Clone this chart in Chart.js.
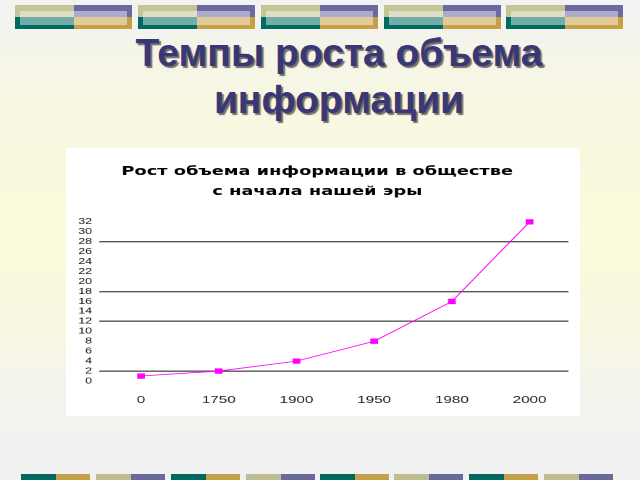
<!DOCTYPE html>
<html>
<head>
<meta charset="utf-8">
<script src="https://cdn.jsdelivr.net/npm/chart.js@4/dist/chart.umd.min.js"></script>
<style>
html,body{margin:0;padding:0;}
body{width:640px;height:480px;overflow:hidden;position:relative;
 background:linear-gradient(to bottom,#F2F2F2 0%,#F4F4EC 8%,#F8F7E2 22%,#FBFADA 50%,#F8F7E2 68%,#F3F3EE 84%,#F1F1F1 92%,#F1F1F1 100%);}
.blk{position:absolute;top:5px;width:117px;height:24px;}
.blk .q{position:absolute;width:50%;height:50%;}
.blk .in{position:absolute;left:5px;top:6px;width:107px;height:14px;background:rgba(255,255,255,0.45);}
.bot{position:absolute;top:474px;width:69px;height:6px;}
.bot div{position:absolute;top:0;width:50%;height:100%;}
#title{position:absolute;left:39px;top:29px;width:600px;text-align:center;
 font-family:"Liberation Sans",Arial,sans-serif;font-weight:bold;font-size:39px;line-height:47px;
 color:#383876;text-shadow:2px 2px 1px rgba(0,0,0,0.55);}
#box{position:absolute;left:66px;top:148px;width:514px;height:268px;background:#fff;overflow:hidden;}
#wrap{position:absolute;left:0;top:0;width:355px;height:268px;transform-origin:0 0;transform:scaleX(1.4479);}
</style>
</head>
<body>
<div id="deco"></div>
<div id="title">Темпы роста объема<br>информации</div>
<div id="box"><div id="wrap"><canvas id="c" width="355" height="268"></canvas></div></div>
<script>
const chartTitle = ["Рост объема информации в обществе", "с начала нашей эры"];
const years = ["0", "1750", "1900", "1950", "1980", "2000"];
const volume = [1, 2, 4, 8, 16, 32];
const gridValues = [2, 12, 18, 28];
const yMin = 0, yMax = 32, yStep = 2;

// decorative blocks
const deco = document.getElementById('deco');
const topX = [15, 138, 261, 384, 506];
topX.forEach(x => {
  const b = document.createElement('div'); b.className = 'blk'; b.style.left = x + 'px';
  b.innerHTML = '<div class="q" style="left:0;top:0;background:#C4C495"></div>' +
    '<div class="q" style="left:50%;top:0;background:#6A6AA0"></div>' +
    '<div class="q" style="left:0;top:50%;background:#006B62"></div>' +
    '<div class="q" style="left:50%;top:50%;background:#C6A046"></div>' +
    '<div class="in"></div>';
  deco.appendChild(b);
});
const botX = [21, 96, 171, 246, 320, 394, 469, 544];
botX.forEach((x, i) => {
  const b = document.createElement('div'); b.className = 'bot'; b.style.left = x + 'px';
  const c = i % 2 === 0 ? ['#00685F', '#C4A24A'] : ['#BCBE92', '#6A6A9A'];
  b.innerHTML = '<div style="left:0;background:' + c[0] + '"></div><div style="left:50%;background:' + c[1] + '"></div>';
  deco.appendChild(b);
});

new Chart(document.getElementById('c'), {
  type: 'line',
  data: {
    labels: years,
    datasets: [{
      data: volume,
      borderColor: '#FF00FF',
      backgroundColor: '#FF00FF',
      borderWidth: 0.8,
      pointStyle: 'rect',
      pointRadius: 3.2,
      pointHoverRadius: 3.2,
      tension: 0,
      fill: false,
      clip: false
    }]
  },
  options: {
    responsive: false,
    maintainAspectRatio: false,
    animation: false,
    devicePixelRatio: 2,
    layout: { padding: { left: 0, right: 8, top: 14, bottom: 0 } },
    plugins: {
      legend: { display: false },
      tooltip: { enabled: false },
      title: {
        display: true,
        text: chartTitle,
        color: '#000',
        font: { family: 'DejaVu Sans', weight: 'bold', size: 12.3, lineHeight: 1.62 },
        padding: { top: 0, bottom: 20 }
      }
    },
    scales: {
      x: {
        offset: true,
        grid: { display: false, drawTicks: false },
        border: { display: false },
        ticks: { color: '#222', font: { family: 'Liberation Sans', size: 10.5 }, padding: 13, maxRotation: 0 },
        afterFit: s => { s.height = 35; }
      },
      y: {
        min: yMin, max: yMax,
        border: { display: false },
        grid: {
          color: ctx => gridValues.includes(ctx.tick && ctx.tick.value) ? '#555' : 'rgba(0,0,0,0)',
          lineWidth: 1.4,
          tickLength: 2,
          drawTicks: true
        },
        ticks: {
          stepSize: yStep, autoSkip: false, color: '#111', padding: 5,
          font: { family: 'Liberation Sans', size: 8.5 }
        },
        afterFit: s => { s.width = 25; }
      }
    }
  }
});
</script>
</body>
</html>
